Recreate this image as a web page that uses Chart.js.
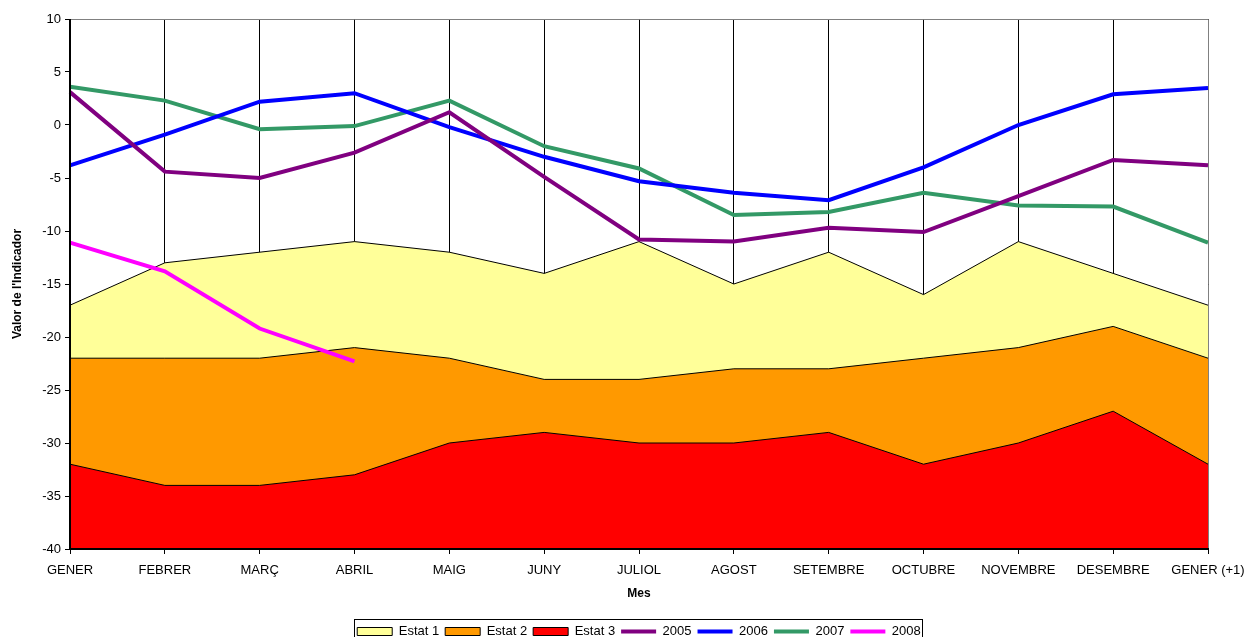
<!DOCTYPE html>
<html id="html">
<head>
<meta charset="utf-8">
<script src="https://cdn.jsdelivr.net/npm/chart.js@4/dist/chart.umd.min.js"></script>
<style>
  html, body { margin: 0; padding: 0; background: #fff; }
  #wrap { width: 1247px; height: 637px; position: relative; }
</style>
</head>
<body>
<div id="wrap"><canvas id="myChart"></canvas></div>
<script>
const mesos = ['GENER','FEBRER','MARÇ','ABRIL','MAIG','JUNY','JULIOL','AGOST','SETEMBRE','OCTUBRE','NOVEMBRE','DESEMBRE','GENER (+1)']

// límits dels estats (àrees)
const estat1 = [-17,-13,-12,-11,-12,-14,-11,-15,-12,-16,-11,-14,-17]
const estat2 = [-22,-22,-22,-21,-22,-24,-24,-23,-23,-22,-21,-19,-22]
const estat3 = [-32,-34,-34,-33,-30,-29,-30,-30,-29,-32,-30,-27,-32]

// valors de l'indicador per any
const any2005 = [3.1,-4.4,-5.0,-2.6,1.2,-4.9,-10.8,-11.0,-9.7,-10.1,-6.7,-3.3,-3.8]
const any2006 = [-3.8,-0.9,2.2,3.0,-0.2,-3.0,-5.3,-6.4,-7.1,-4.0,0.0,2.9,3.5]
const any2007 = [3.6,2.3,-0.4,-0.1,2.3,-2.0,-4.1,-8.5,-8.2,-6.4,-7.6,-7.7,-11.1]
const any2008 = [-11.1,-13.8,-19.2,-22.3,null,null,null,null,null,null,null,null,null]

const yMin = -40, yMax = 10, yStep = 5

const font = "'Liberation Sans', Arial, sans-serif"
Chart.defaults.font.family = font
Chart.defaults.font.size = 13
Chart.defaults.color = '#000'

function area(label, data, color, order){
    return {
        label: label, data: data, order: order,
        fill: 'start', backgroundColor: color,
        borderColor: '#000', borderWidth: 1,
        pointRadius: 0, pointHoverRadius: 0, pointStyle: 'rect',
        tension: 0
    }
}
function linia(label, data, color){
    return {
        label: label, data: data, order: 0,
        fill: false, borderColor: color, backgroundColor: color,
        borderWidth: 4, pointRadius: 0, pointHoverRadius: 0, pointStyle: 'line',
        tension: 0
    }
}

// marc de l'àrea del gràfic + llegenda centrada sota l'àrea, amb vora
const marc = {
    id: 'marc',
    afterLayout(chart){
        const lg = chart.legend
        const a = chart.chartArea
        const shift = (a.left + a.right) / 2 - (lg.left + lg.right) / 2
        lg.left += shift
        lg.right += shift
    },
    afterDatasetsDraw(chart){
        const {ctx, chartArea: a} = chart
        ctx.save()
        ctx.strokeStyle = '#808080'
        ctx.lineWidth = 1
        ctx.beginPath()
        ctx.moveTo(a.left, a.top + 0.5); ctx.lineTo(a.right + 0.5, a.top + 0.5)
        ctx.lineTo(a.right + 0.5, a.bottom)
        ctx.stroke()
        ctx.strokeStyle = '#000'
        ctx.lineWidth = 2
        ctx.beginPath()
        ctx.moveTo(a.left, a.top); ctx.lineTo(a.left, a.bottom)
        ctx.lineTo(a.right + 1, a.bottom)
        ctx.stroke()
        ctx.restore()
    },
    afterDraw(chart){
        const lg = chart.legend
        const pad = lg.options.labels.padding
        const w = lg.lineWidths[0]
        const x0 = (lg.left + pad + lg.right - w) / 2
        const ctx = chart.ctx
        ctx.save()
        ctx.strokeStyle = '#000'
        ctx.lineWidth = 1
        ctx.strokeRect(Math.round(x0 - 3) + 0.5, Math.round(lg.top + pad - 6) + 0.5, Math.round(w - pad + 4), 40)
        ctx.restore()
    }
}

const ctx = document.getElementById('myChart')
const myChart = new Chart(ctx, {
    type: 'line',
    data: {
        labels: mesos,
        datasets: [
            area('Estat 1', estat1, '#FFFF99', 3),
            area('Estat 2', estat2, '#FF9900', 2),
            area('Estat 3', estat3, '#FF0000', 1),
            linia('2005', any2005, '#800080'),
            linia('2006', any2006, '#0000FF'),
            linia('2007', any2007, '#339966'),
            linia('2008', any2008, '#FF00FF')
        ]
    },
    plugins: [marc],
    options: {
        responsive: true,
        maintainAspectRatio: false,
        animation: false,
        layout: { padding: { top: 19, right: 39, left: 0, bottom: -11 } },
        plugins: {
            legend: {
                display: true,
                position: 'bottom',
                labels: {
                    usePointStyle: true,
                    pointStyleWidth: 35,
                    boxHeight: 8,
                    padding: 6,
                    font: { size: 13 },
                    sort: (a, b) => a.datasetIndex - b.datasetIndex
                }
            },
            tooltip: { enabled: false }
        },
        scales: {
            x: {
                offset: false,
                grid: {
                    display: true, drawOnChartArea: true, drawTicks: true,
                    color: '#000', tickColor: '#000', tickLength: 5, lineWidth: 1
                },
                border: { display: false },
                ticks: { maxRotation: 0, autoSkip: false, padding: 9, font: { size: 13 } },
                title: { display: true, text: 'Mes', font: { size: 12, weight: 'bold' }, padding: { top: -1, bottom: 18 } },
                afterFit(scale){ scale.paddingLeft = 0; scale.paddingRight = 0 }
            },
            y: {
                min: yMin, max: yMax,
                grid: {
                    display: true, drawOnChartArea: false, drawTicks: true,
                    tickColor: '#000', tickLength: 5
                },
                border: { display: false },
                ticks: { stepSize: yStep, padding: 4, font: { size: 13 } },
                title: { display: true, text: "Valor de l'Indicador", font: { size: 12, weight: 'bold' }, padding: { top: 10, bottom: 0 } },
                afterFit(scale){ scale.width = 70; scale.paddingTop = 0; scale.paddingBottom = 0 }
            }
        }
    }
})
</script>
</body>
</html>
